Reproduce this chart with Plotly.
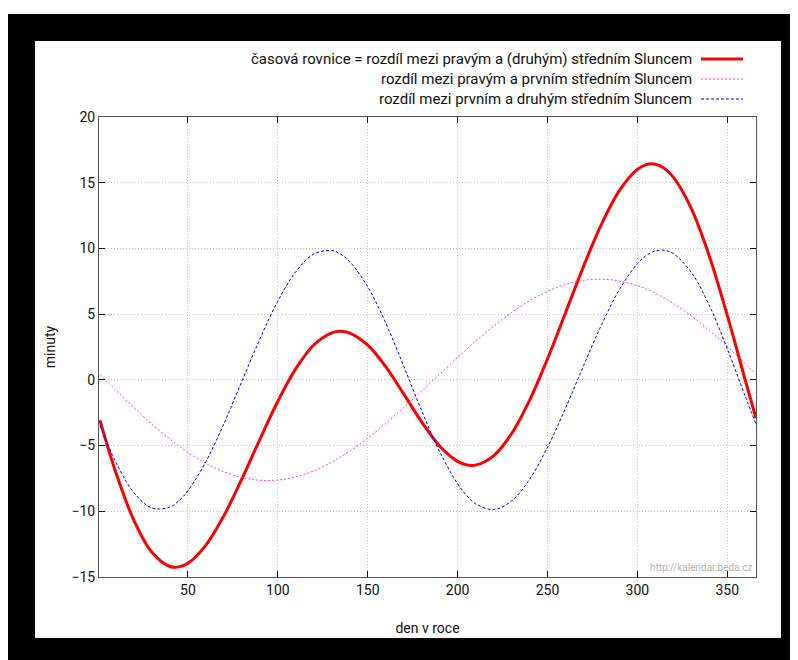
import plotly.graph_objects as go

days = [1, 10, 20, 30, 40, 45, 50, 60, 70, 80, 90, 100, 110, 120, 130, 135, 140, 150, 160, 170,
        180, 190, 200, 205, 210, 220, 230, 240, 250, 260, 270, 280, 290, 300, 305, 310, 315, 320,
        330, 340, 350, 360, 366]
equation_of_time = [-3.07, -7.10, -10.72, -13.14, -14.20, -14.23, -13.96, -12.57, -10.33, -7.54,
                    -4.53, -1.63, 0.85, 2.65, 3.58, 3.69, 3.56, 2.64, 1.01, -1.07, -3.20, -5.03,
                    -6.20, -6.47, -6.49, -5.78, -4.10, -1.56, 1.60, 5.09, 8.62, 11.83, 14.40,
                    16.01, 16.38, 16.41, 16.09, 15.43, 13.05, 9.43, 4.92, -0.01, -2.93]
eccentricity_part = [0.40, -0.81, -2.12, -3.38, -4.52, -5.04, -5.53, -6.36, -7.00, -7.44, -7.64,
                     -7.62, -7.38, -6.92, -6.26, -5.86, -5.43, -4.44, -3.32, -2.12, -0.85, 0.43,
                     1.71, 2.33, 2.94, 4.09, 5.12, 6.01, 6.73, 7.25, 7.57, 7.66, 7.53, 7.17, 6.91,
                     6.60, 6.23, 5.82, 4.87, 3.76, 2.54, 1.24, 0.44]
obliquity_part = [-3.47, -6.29, -8.60, -9.76, -9.68, -9.19, -8.43, -6.21, -3.33, -0.10, 3.11,
                  5.99, 8.23, 9.57, 9.84, 9.56, 8.99, 7.08, 4.33, 1.05, -2.35, -5.46, -7.91, -8.80,
                  -9.43, -9.87, -9.22, -7.57, -5.13, -2.16, 1.05, 4.17, 6.87, 8.84, 9.47, 9.81,
                  9.86, 9.61, 8.18, 5.67, 2.38, -1.25, -3.37]

names = ["časová rovnice = rozdíl mezi pravým a (druhým) středním Sluncem",
         "rozdíl mezi pravým a prvním středním Sluncem",
         "rozdíl mezi prvním a druhým středním Sluncem"]
colors = ["#ff0000", "#ff30ff", "#0000ff"]
widths = [3, 1, 1]
dashes = ["solid", "2px,2px", "3px,2px"]
series = [equation_of_time, eccentricity_part, obliquity_part]

x_ticks = [50, 100, 150, 200, 250, 300, 350]
y_ticks = [-15, -10, -5, 0, 5, 10, 15, 20]

FONT = "Roboto"
OFF = 8  # page offset of the figure (body margin)
W, H = 798, 660
L, T = 99 - OFF, 117 - OFF
pw, ph = 657, 460
R, B = W - L - pw, H - T - ph

def px(x):
    return (x - OFF - L) / pw

def py(y):
    return (T + ph - (y - OFF)) / ph

fig = go.Figure()
for ys, n, c, w, d in zip(series, names, colors, widths, dashes):
    fig.add_trace(go.Scatter(x=days, y=ys, mode="lines", name=n, showlegend=False,
                             line=dict(color=c, width=w, dash=d, shape="spline")))

shapes = [
    dict(type="rect", xref="paper", yref="paper", x0=px(8), x1=px(820), y0=py(690), y1=py(14),
         fillcolor="black", line=dict(width=0), layer="below"),
    dict(type="rect", xref="paper", yref="paper", x0=px(35), x1=px(781), y0=py(638), y1=py(41),
         fillcolor="white", line=dict(width=0), layer="below"),
]
annotations = []
rows = [59, 79, 99]
for i in range(3):
    shapes.append(dict(type="line", xref="paper", yref="paper", x0=px(701), x1=px(743),
                       y0=py(rows[i]), y1=py(rows[i]),
                       line=dict(color=colors[i], width=widths[i], dash=dashes[i])))
    annotations.append(dict(text=names[i], xref="paper", yref="paper", x=px(694), y=py(rows[i]),
                            xanchor="right", yanchor="middle", showarrow=False,
                            font=dict(family=FONT, size=15, color="#111")))
annotations.append(dict(text="http://kalendar.beda.cz", xref="paper", yref="paper",
                        x=px(754), y=py(567), xanchor="right", yanchor="middle", showarrow=False,
                        font=dict(family=FONT, size=10, color="#b5b5b5")))

axis_common = dict(showline=True, linecolor="#555", linewidth=1, mirror="ticks", ticks="inside",
                   ticklen=6, tickcolor="#111", showgrid=True, gridcolor="#c4c4c4", gridwidth=0.6,
                   griddash="1px,2px", zeroline=False, tickfont=dict(family=FONT, size=14, color="#111"))

fig.update_layout(
    width=W, height=H, margin=dict(l=L, r=R, t=T, b=B),
    paper_bgcolor="white", plot_bgcolor="rgba(0,0,0,0)",
    shapes=shapes, annotations=annotations,
    xaxis=dict(range=[0.5, 366], tickvals=x_ticks,
               title=dict(text="den v roce", font=dict(family=FONT, size=14, color="#111"), standoff=26),
               **axis_common),
    yaxis=dict(range=[-15, 20], tickvals=y_ticks,
               title=dict(text="minuty", font=dict(family=FONT, size=14, color="#111"), standoff=12),
               **axis_common),
)
fig.write_html("out.html")
